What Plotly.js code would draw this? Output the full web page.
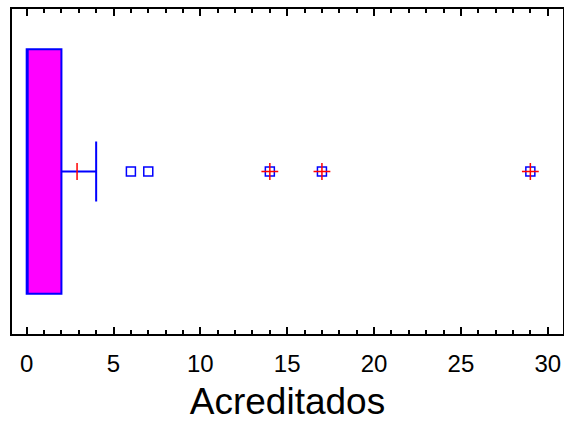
<!DOCTYPE html>
<html>
<head>
<meta charset="utf-8">
<script src="https://cdn.plot.ly/plotly-3.0.1.min.js"></script>
<style>html,body{margin:0;padding:0;background:#fff;}#chart{width:564px;height:422px;}</style>
</head>
<body>
<div id="chart"></div>
<script>
// Box-and-whisker summary for "Acreditados"
const variableName = "Acreditados";
const q1 = [0];
const medianVal = [0];
const q3 = [2];
const lowerWhisker = [0];
const upperWhisker = [4];
const meanVal = [2.9];
const outsidePoints = [6, 7, 14, 17, 29];
const farOutsidePoints = [14, 17, 29];
const majorTickStep = 5;
const minorTickStep = 1;

const fontFam = "Arial, 'Liberation Sans', sans-serif";
const xRange = [-0.846, 30.88];

const traces = [
  {
    type: 'box', orientation: 'h',
    y: [0], q1: q1, median: medianVal, q3: q3,
    lowerfence: lowerWhisker, upperfence: upperWhisker,
    boxpoints: false, width: 1.505, whiskerwidth: 0.245,
    fillcolor: '#FF00FF', line: {color: '#0000FF', width: 2},
    showlegend: false, hoverinfo: 'skip'
  },
  {
    type: 'scatter', mode: 'markers',
    x: meanVal, y: meanVal.map(() => 0),
    marker: {symbol: 'line-ns-open', size: 12, color: '#FF0000', line: {color: '#FF0000', width: 1.5}},
    showlegend: false, hoverinfo: 'skip'
  },
  {
    type: 'scatter', mode: 'markers',
    x: outsidePoints, y: outsidePoints.map(() => 0),
    marker: {symbol: 'square-open', size: 9, color: '#0000FF', line: {color: '#0000FF', width: 1.5}},
    showlegend: false, hoverinfo: 'skip'
  },
  {
    type: 'scatter', mode: 'markers',
    x: farOutsidePoints, y: farOutsidePoints.map(() => 0),
    marker: {symbol: 'cross-thin-open', size: 12, color: '#FF0000', line: {color: '#FF0000', width: 1.5}},
    showlegend: false, hoverinfo: 'skip'
  }
];

const layout = {
  width: 564, height: 422,
  margin: {l: 12, r: 1, t: 9, b: 88, pad: 0},
  paper_bgcolor: '#ffffff', plot_bgcolor: '#ffffff',
  font: {family: fontFam, color: '#000000'},
  xaxis: {
    range: xRange,
    tickmode: 'linear', tick0: 0, dtick: majorTickStep,
    ticks: 'inside', ticklen: 7, tickwidth: 1.5, tickcolor: '#000000',
    minor: {tickmode: 'linear', tick0: 0, dtick: minorTickStep, ticks: 'inside', ticklen: 4, tickwidth: 1.5, tickcolor: '#000000', showgrid: false},
    showline: true, linecolor: '#000000', linewidth: 2, mirror: 'allticks',
    showgrid: false, zeroline: false,
    tickfont: {family: fontFam, size: 24, color: '#000'},
    ticklabelstandoff: 7,
    title: {text: variableName, font: {family: fontFam, size: 37, color: '#000'}, standoff: 16},
    automargin: false
  },
  yaxis: {
    range: [-1, 1], showticklabels: false, ticks: '',
    showline: true, linecolor: '#000000', linewidth: 2, mirror: true,
    showgrid: false, zeroline: false, automargin: false
  }
};

Plotly.newPlot('chart', traces, layout, {displayModeBar: false});
</script>
</body>
</html>
